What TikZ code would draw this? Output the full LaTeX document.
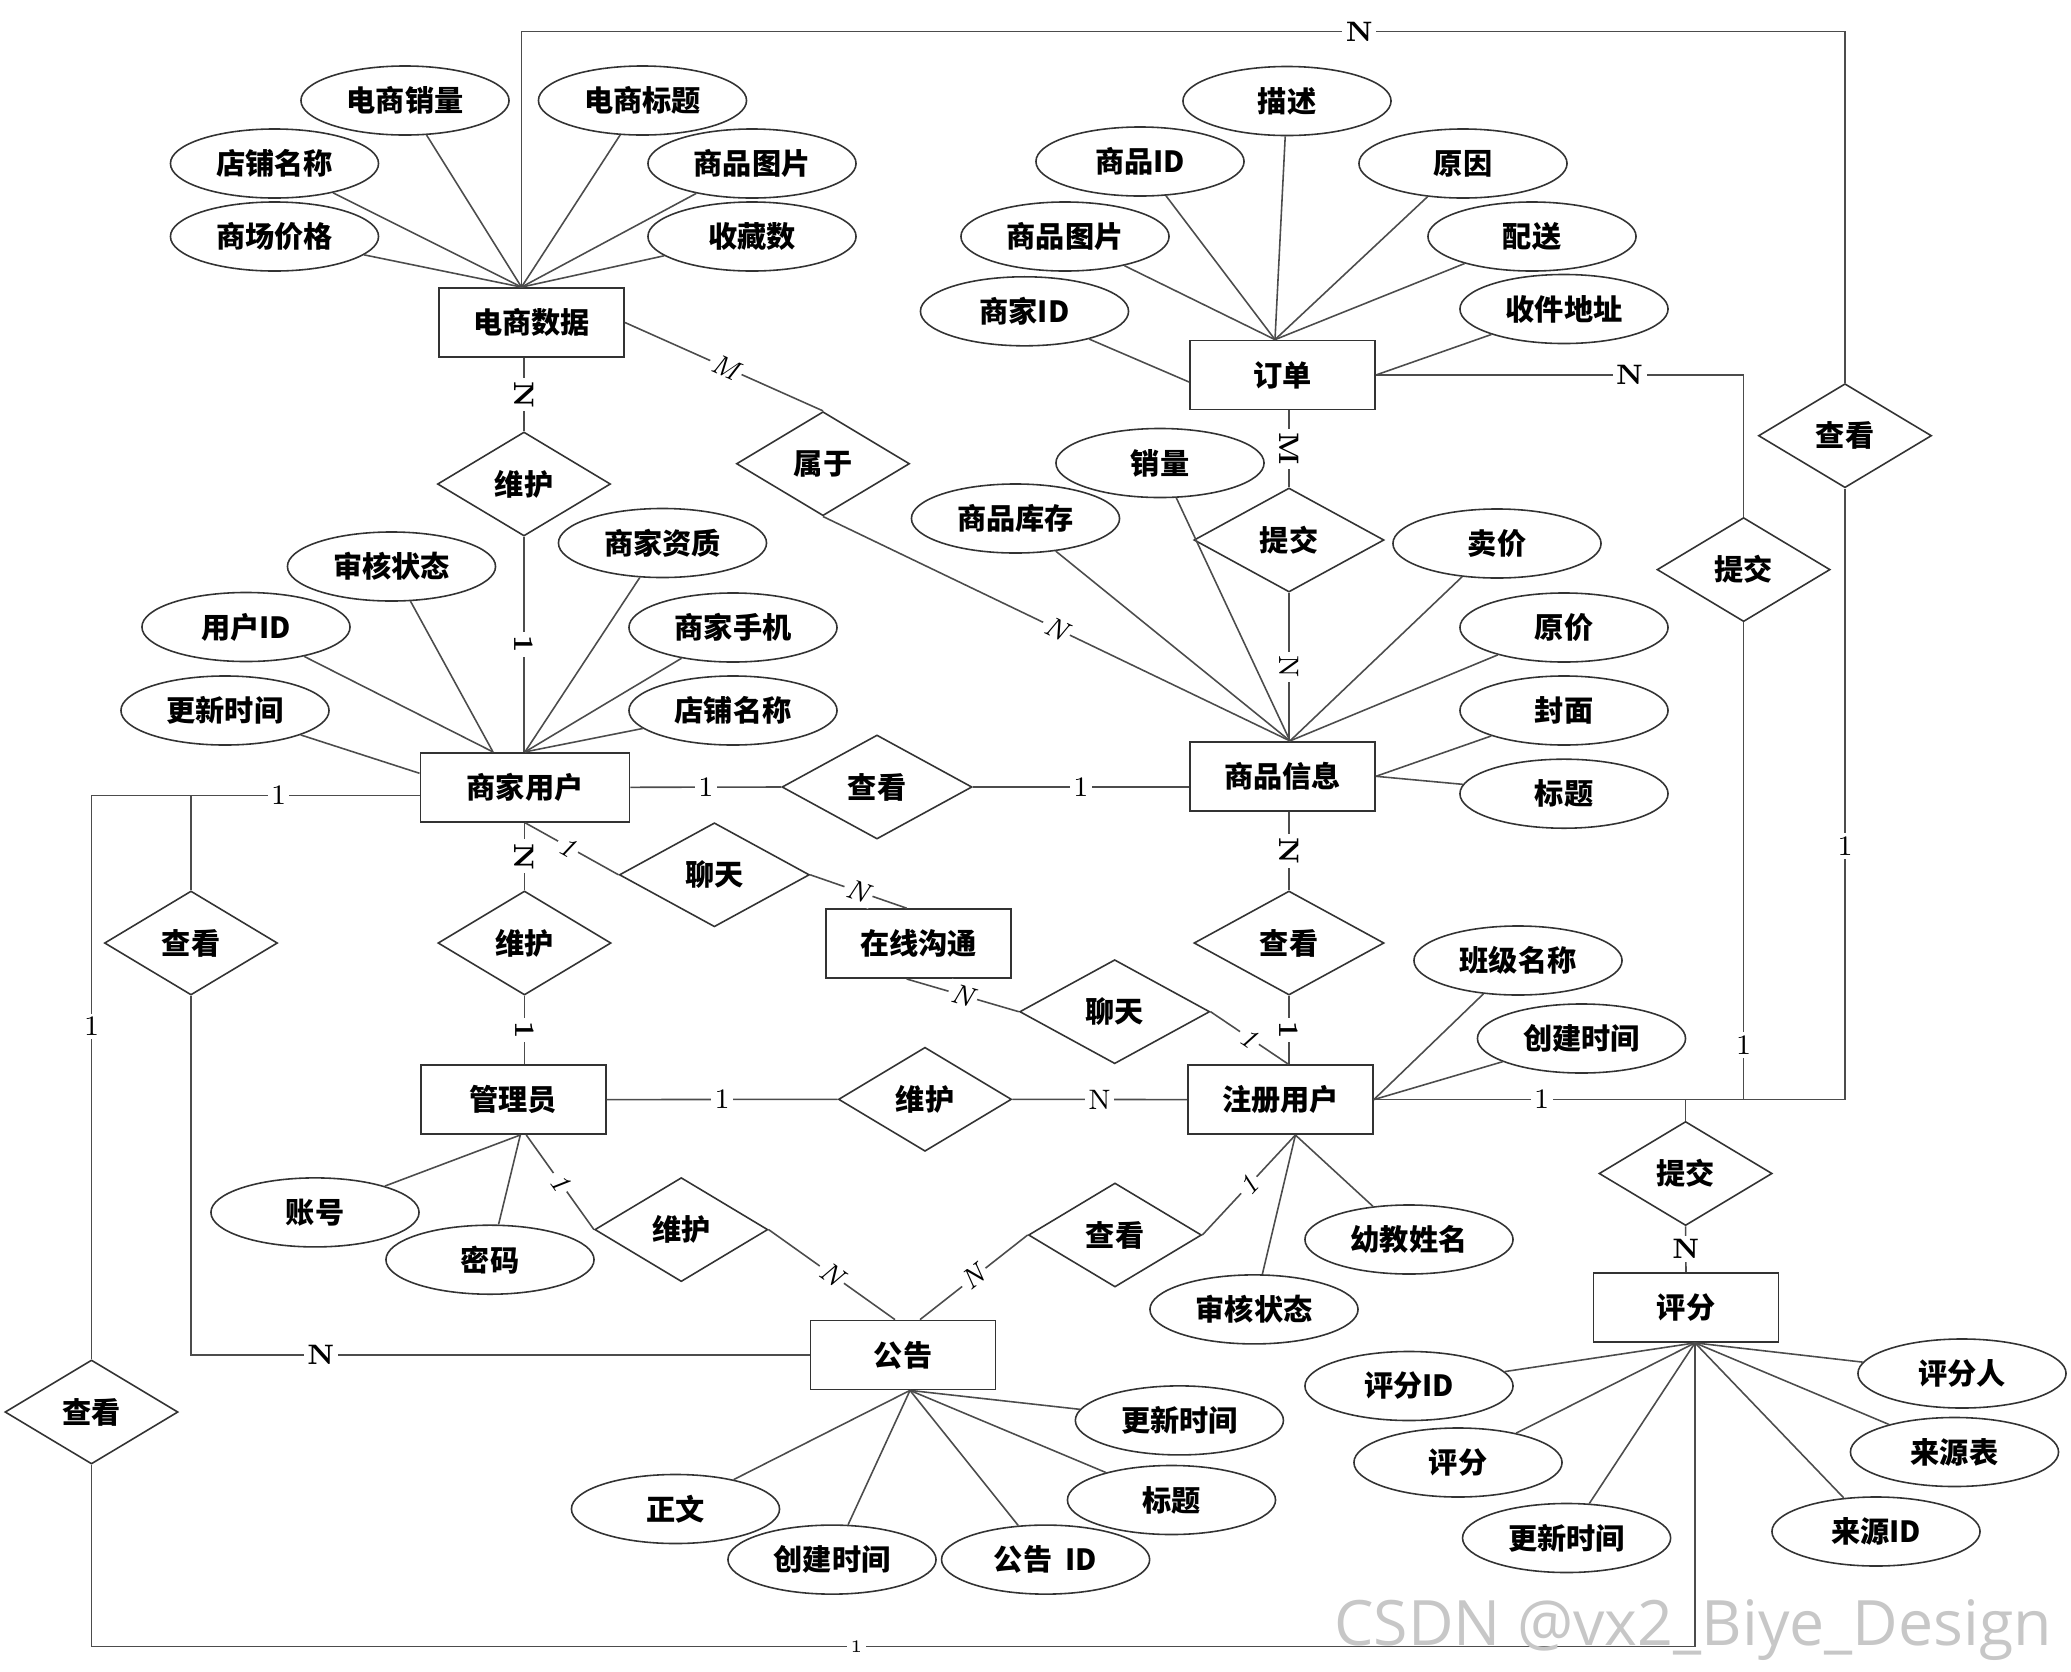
\documentclass[tikz,border=0pt]{standalone}
\usepackage{fontspec}
\newfontfamily\cjk{Noto Sans CJK SC}
\newfontfamily\wmfont{Open Sans}
\usetikzlibrary{shapes.geometric}

\begin{document}
\begin{tikzpicture}[x=0.01cm, y=-0.01cm,
    ent/.style={rectangle, draw=black!80, line width=0.5pt, minimum width=1.85cm, minimum height=0.69cm, inner sep=0pt, font=\cjk\bfseries\fontsize{8.3}{10}\selectfont},
    attr/.style={ellipse, draw=black!80, line width=0.45pt, minimum width=2.08cm, minimum height=0.69cm, inner sep=0pt, font=\cjk\bfseries\fontsize{8.3}{10}\selectfont},
    rel/.style={diamond, draw=black!80, line width=0.45pt, minimum width=1.73cm, minimum height=1.04cm, aspect=1.66, inner sep=0pt, font=\cjk\bfseries\fontsize{8.3}{10}\selectfont},
    relw/.style={rel, minimum width=1.9cm},
    con/.style={draw=black!70, line width=0.45pt},
    lbl/.style={fill=white, inner sep=1pt, font=\fontsize{8}{9}\selectfont},
    lbli/.style={lbl, sloped, font=\itshape\fontsize{8}{9}\selectfont}]
\useasboundingbox (0,0) rectangle (2071,1672);

% Entities:
\node[ent] (sj) at (531.5,322.5) {电商数据};
\node[ent] (dd) at (1282.5,375) {订单};
\node[ent] (sp) at (1282.5,776.3) {商品信息};
\node[ent, minimum width=2.09cm] (sjyh) at (525,787.3) {商家用户};
\node[ent] (zx) at (918.7,943.6) {在线沟通};
\node[ent] (gly) at (513.3,1099.6) {管理员};
\node[ent] (zc) at (1280.4,1099.6) {注册用户};
\node[ent] (gg) at (903,1355) {公告};
\node[ent] (pf) at (1686,1307.5) {评分};

% Relationships:
\node[rel] (wh1) at (524,484) {维护};
\node[rel] (sy) at (823,463.7) {属于};
\node[relw] (tj1) at (1289,540) {提交};
\node[rel] (ck1) at (1845,435.7) {查看};
\node[rel] (tj2) at (1743.6,569.6) {提交};
\node[relw] (ck2) at (877,787) {查看};
\node[relw] (lt1) at (714.4,874.8) {聊天};
\node[rel] (wh2) at (524.5,943) {维护};
\node[rel] (ck3) at (191,943) {查看};
\node[relw] (ck4) at (1289,943) {查看};
\node[relw] (lt2) at (1114.7,1011.7) {聊天};
\node[rel] (wh3) at (925,1099.3) {维护};
\node[rel] (wh4) at (681.3,1229.6) {维护};
\node[rel] (ck5) at (1115,1235) {查看};
\node[rel] (tj3) at (1685.6,1173.5) {提交};
\node[rel] (ck6) at (91.5,1412) {查看};

% Attributes:
\node[attr] (sj1) at (405,100.5) {电商销量};
\node[attr] (sj2) at (274.5,163.5) {店铺名称};
\node[attr] (sj3) at (274.5,236.5) {商场价格};
\node[attr] (sj4) at (642.5,100.5) {电商标题};
\node[attr] (sj5) at (752,163.5) {商品图片};
\node[attr] (sj6) at (752,236.5) {收藏数};

\node[attr] (dd1) at (1287,101) {描述};
\node[attr] (dd2) at (1140,161.5) {商品ID};
\node[attr] (dd3) at (1463,163.5) {原因};
\node[attr] (dd4) at (1065,236.5) {商品图片};
\node[attr] (dd5) at (1532,236.5) {配送};
\node[attr] (dd6) at (1024.5,311.3) {商家ID};
\node[attr] (dd7) at (1564,309) {收件地址};

\node[attr] (sp1) at (1160,463) {销量};
\node[attr] (sp2) at (1015.5,518.5) {商品库存};
\node[attr] (sp3) at (1497,543.5) {卖价};
\node[attr] (sp4) at (1564,627.5) {原价};
\node[attr] (sp5) at (1564,710.5) {封面};
\node[attr] (sp6) at (1564,793.7) {标题};

\node[attr] (sh1) at (391.5,566.5) {审核状态};
\node[attr] (sh2) at (662.5,543) {商家资质};
\node[attr] (sh3) at (246,627) {用户ID};
\node[attr] (sh4) at (733,627.5) {商家手机};
\node[attr] (sh5) at (225,710.5) {更新时间};
\node[attr] (sh6) at (733,710.5) {店铺名称};

\node[attr] (zc1) at (1518,960.5) {班级名称};
\node[attr] (zc2) at (1581.5,1038.5) {创建时间};
\node[attr] (zc3) at (1409,1239.5) {幼教姓名};
\node[attr] (zc4) at (1254,1309.4) {审核状态};

\node[attr] (gl1) at (315,1212.4) {账号};
\node[attr] (gl2) at (490,1259.7) {密码};

\node[attr] (gg1) at (1179.4,1420.4) {更新时间};
\node[attr] (gg2) at (1171.5,1500) {标题};
\node[attr] (gg3) at (675.5,1509) {正文};
\node[attr] (gg4) at (832,1559.6) {创建时间};
\node[attr] (gg5) at (1045.6,1559.6) {公告~~ID};

\node[attr] (pf1) at (1409,1386) {评分ID};
\node[attr] (pf2) at (1962,1373.5) {评分人};
\node[attr] (pf3) at (1458,1462.5) {评分};
\node[attr] (pf4) at (1954.5,1452) {来源表};
\node[attr] (pf5) at (1566.6,1538) {更新时间};
\node[attr] (pf6) at (1876,1531.5) {来源ID};

% Meeting points:
\coordinate (sjtop) at ([xshift=-0.1cm]sj.north);
\coordinate (ddtop) at ([xshift=-0.075cm]dd.north);
\coordinate (sptop) at ([xshift=0.075cm]sp.north);
\coordinate (shl) at ([xshift=-0.32cm]sjyh.north);
\coordinate (sjl) at ([yshift=-0.08cm]sjyh.west);
\coordinate (glybot) at ([xshift=0.07cm]gly.south);
\coordinate (zcbot) at ([xshift=0.15cm]zc.south);
\coordinate (ggbot) at ([xshift=0.07cm]gg.south);
\coordinate (pfbot) at ([xshift=0.09cm]pf.south);

% Attribute lines:
\foreach \a in {sj1,sj2,sj3,sj4,sj5,sj6} \draw[con] (\a) -- (sjtop);
\foreach \a in {dd1,dd2,dd3,dd4,dd5} \draw[con] (\a) -- (ddtop);
\draw[con] (dd6) -- ([yshift=-0.07cm]dd.west);
\draw[con] (dd7) -- (dd.east);
\foreach \a in {sp1,sp2,sp3,sp4} \draw[con] (\a) -- (sptop);
\foreach \a in {sp5,sp6} \draw[con] (\a) -- (sp.east);
\foreach \a in {sh1,sh3} \draw[con] (\a) -- (shl);
\foreach \a in {sh2,sh4,sh6} \draw[con] (\a) -- (sjyh.north);
\draw[con] (sh5) -- ([yshift=0.14cm]sjyh.west);
\foreach \a in {zc1,zc2} \draw[con] (\a) -- (zc.east);
\foreach \a in {zc3,zc4} \draw[con] (\a) -- (zcbot);
\foreach \a in {gl1,gl2} \draw[con] (\a) -- (glybot);
\foreach \a in {gg1,gg2,gg3,gg4,gg5} \draw[con] (\a) -- (ggbot);
\foreach \a in {pf1,pf2,pf3,pf4,pf5,pf6} \draw[con] (\a) -- (pfbot);

% Relationship lines:
\draw[con] (sjtop) -- (sjtop |- 0,31.4) -- node[lbl, pos=0.633]{\bfseries N} (ck1.north |- 0,31.4) -- (ck1.north);
\draw[con] (wh1.north |- sj.south) -- node[lbl, sloped]{\bfseries N} (wh1.north);
\draw[con] (wh1.south) -- node[lbl, sloped]{\bfseries 1} (wh1.south |- sjyh.north);
\draw[con] (sj.east) -- node[lbli, pos=0.51]{M} (sy.north);
\draw[con] (sy.south) -- node[lbli]{N} (sptop);
\draw[con] (tj1.north |- dd.south) -- node[lbl, sloped]{\bfseries M} (tj1.north);
\draw[con] (tj1.south) -- node[lbl, sloped]{N} (tj1.south |- sp.north);
\draw[con] (dd.east) -- node[lbl, pos=0.69]{\bfseries N} (tj2.north |- dd.east) -- (tj2.north);
\draw[con] (zc.east) -- node[lbl, pos=0.356]{1} (ck1.south |- zc.east) -- node[lbl, pos=0.415]{1} (ck1.south);
\draw[con] (tj2.south) -- node[lbl, pos=0.886]{1} (tj2.south |- zc.east);
\draw[con] (tj3.north |- zc.east) -- (tj3.north);
\draw[con] (tj3.south) -- node[lbl]{\bfseries N} (pf.north);
\draw[con] (sjyh.east) -- node[lbl]{1} (ck2.west);
\draw[con] (ck2.east) -- node[lbl]{1} (sp.west |- ck2.east);
\draw[con] (ck4.north |- sp.south) -- node[lbl, sloped]{\bfseries N} (ck4.north);
\draw[con] (ck4.south) -- node[lbl, sloped]{\bfseries 1} (ck4.south |- zc.north);
\draw[con] (wh2.north |- sjyh.south) -- node[lbl, sloped]{\bfseries N} (wh2.north);
\draw[con] (wh2.south) -- node[lbl, sloped]{\bfseries 1} (wh2.south |- gly.north);
\draw[con] (sjyh.south) -- node[lbli, pos=0.46]{1} (lt1.west);
\draw[con] (lt1.east) -- node[lbli]{N} ([xshift=-0.12cm]zx.north);
\draw[con] ([xshift=-0.12cm]zx.south) -- node[lbli]{N} (lt2.west);
\draw[con] (lt2.east) -- node[lbli]{1} ([xshift=0.08cm]zc.north);
\draw[con] (gly.east) -- node[lbl]{1} (wh3.west);
\draw[con] (wh3.east) -- node[lbl]{N} (zc.west);
\draw[con] ([xshift=0.13cm]gly.south) -- node[lbli]{1} (wh4.west);
\draw[con] (wh4.east) -- node[lbli]{N} ([xshift=-0.08cm]gg.north);
\draw[con] (zcbot) -- node[lbli]{1} (ck5.east);
\draw[con] (ck5.west) -- node[lbli]{N} ([xshift=0.17cm]gg.north);
\draw[con] (sjl) -- node[lbl, pos=0.43]{1} (ck6.north |- sjl) -- node[lbl, pos=0.41]{1} (ck6.north);
\draw[con] (ck3.north) -- (ck3.north |- sjl);
\draw[con] (ck3.south) -- (ck3.south |- gg.west) -- node[lbl, pos=0.21]{\bfseries N} (gg.west);
\draw[con] (ck6.south) -- (ck6.south |- 0,1646.5) -- node[lbl, pos=0.477, font=\tiny]{1} (pfbot |- 0,1646.5) -- (pfbot);

% Watermark:
\node[anchor=base west, text=black!22, font=\wmfont\fontsize{17.8}{18}\selectfont] (wm) at (1322,1645.4) {CSDN @vx2\_Biye\_Design};
\end{tikzpicture}
\end{document}
